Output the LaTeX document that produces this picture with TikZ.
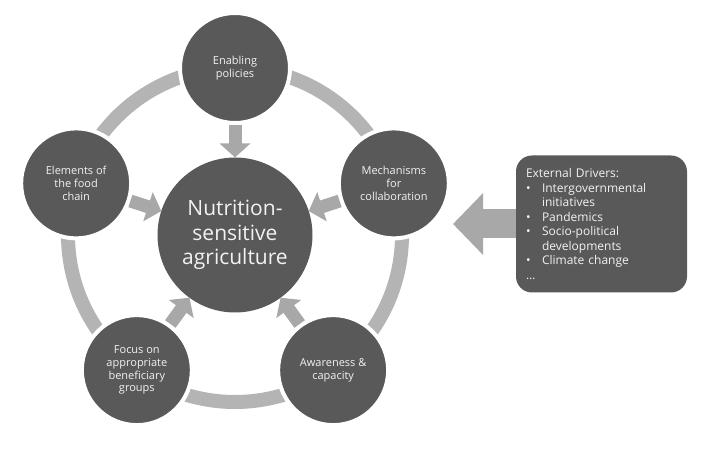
\documentclass[tikz,border=0pt]{standalone}
\usepackage{fontspec}
\setmainfont{Open Sans}
\usetikzlibrary{arrows.meta, positioning}
\definecolor{circfill}{RGB}{89,89,89}
\definecolor{ringgray}{RGB}{180,180,180}
\definecolor{arrowgray}{RGB}{168,168,168}
\definecolor{txtlight}{RGB}{242,242,242}
\newcommand{\drvitem}[1]{\makebox[16pt][l]{\textbullet}#1}
\newcommand{\drvcont}[1]{\hspace*{16pt}#1}

\begin{document}
\begin{tikzpicture}[x=1pt, y=1pt,
  pillar/.style={circle, draw=white, line width=4pt, fill=circfill, text=txtlight,
    minimum size=110pt, inner sep=0pt, align=center, font=\fontsize{11}{12.8}\selectfont},
  core/.style={circle, fill=circfill, text=txtlight, minimum size=155pt, inner sep=0pt,
    outer sep=0pt, align=center, font=\fontsize{21}{24.5}\selectfont},
  drivers/.style={rectangle, rounded corners=16pt, fill=circfill, text=txtlight,
    minimum width=171pt, minimum height=137pt, text width=151pt, inner xsep=10pt,
    outer sep=0pt, align=left, font=\fontsize{12}{14.5}\selectfont},
  ring/.style={draw=ringgray, line width=14pt},
  push/.style={draw=arrowgray, line width=13pt, -{Triangle[width=30pt,length=14pt]}},
  bigpush/.style={draw=arrowgray, line width=29pt, -{Triangle[width=60pt,length=30pt]}}]
  \useasboundingbox (-235,-214) rectangle (468,235);

  \node[core] (nsa) at (0,0) {Nutrition-\\sensitive\\agriculture};
  \draw[ring] (nsa.center) circle[radius=167pt];

  \node[pillar] (policies) at (90:167pt) {Enabling\\policies};
  \node[pillar] (mechanisms) at (18:167pt) {Mechanisms\\for\\collaboration};
  \node[pillar] (awareness) at (-54:167pt) {Awareness \&\\capacity};
  \node[pillar] (groups) at (234:167pt) {Focus on\\appropriate\\beneficiary\\groups};
  \node[pillar] (foodchain) at (162:167pt) {Elements of\\the food\\chain};

  \node[drivers] (drivers) at (366.5,11) {External Drivers:\\
    \drvitem{Intergovernmental}\\
    \drvcont{initiatives}\\
    \drvitem{Pandemics}\\
    \drvitem{Socio-political}\\
    \drvcont{developments}\\
    \drvitem{Climate change}\\
    \dots};
  \coordinate[left=63pt of drivers.west] (tip);

  \draw[push] (policies) -- (nsa);
  \draw[push] (mechanisms) -- (nsa);
  \draw[push] (awareness) -- (nsa);
  \draw[push] (groups) -- (nsa);
  \draw[push] (foodchain) -- (nsa);
  \draw[bigpush] (drivers.west) -- (tip);
\end{tikzpicture}
\end{document}
